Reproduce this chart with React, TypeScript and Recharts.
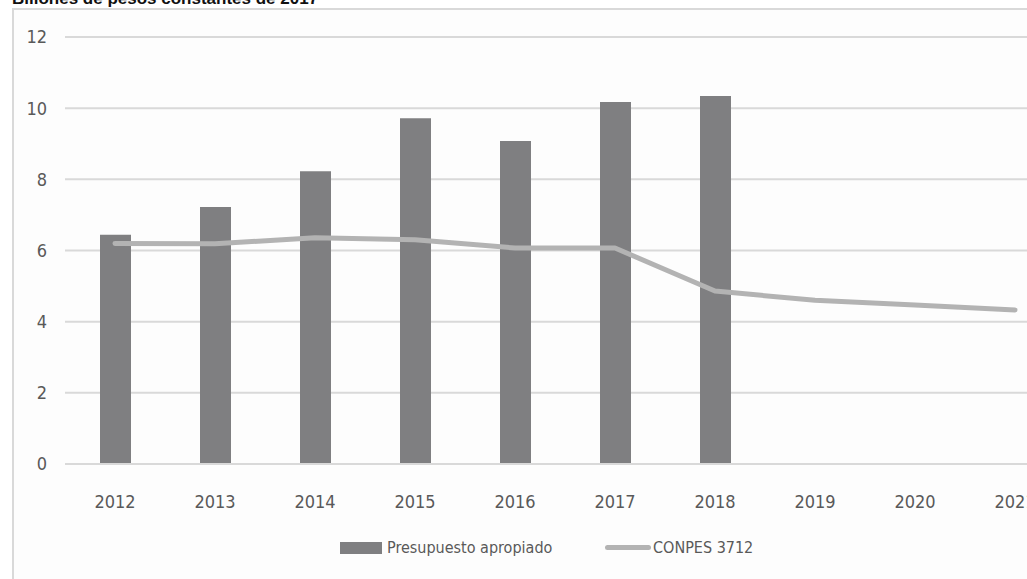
import { ComposedChart, Bar, Line, XAxis, YAxis, CartesianGrid } from 'recharts';

const years = ['2012', '2013', '2014', '2015', '2016', '2017', '2018', '2019', '2020', '2021'];
const presupuesto = [6.44, 7.22, 8.23, 9.72, 9.08, 10.17, 10.34, null, null, null];
const conpes = [6.2, 6.19, 6.36, 6.3, 6.07, 6.07, 4.86, 4.6, 4.47, 4.33];
const yTicks = [0, 2, 4, 6, 8, 10, 12];

const chartData = years.map((year, i) => ({
  year,
  presupuesto: presupuesto[i],
  conpes: conpes[i],
}));

const FONT = '"DejaVu Sans Condensed", "DejaVu Sans", sans-serif';
const TEXT = '#595959';

export default function App() {
  return (
    <div
      style={{
        position: 'absolute',
        left: 0,
        top: 0,
        width: 1027,
        height: 579,
        overflow: 'hidden',
        background: '#ffffff',
        fontFamily: FONT,
      }}
    >
      <div
        style={{
          position: 'absolute',
          left: 12,
          top: -10,
          fontFamily: '"Liberation Sans", Arial, sans-serif',
          fontWeight: 'bold',
          fontSize: 17,
          lineHeight: '17px',
          color: '#111',
          whiteSpace: 'nowrap',
        }}
      >
        Billones de pesos constantes de 2017
      </div>
      <div
        style={{
          position: 'absolute',
          left: 12,
          top: 8,
          width: 1100,
          height: 700,
          border: '2px solid #d9d9d9',
          background: '#fdfdfd',
        }}
      />
      <div style={{ position: 'absolute', left: 0, top: 0 }}>
        <ComposedChart
          width={1100}
          height={579}
          data={chartData}
          margin={{ top: 37, right: 35, bottom: 75, left: 15 }}
          barSize={31}
        >
          <CartesianGrid vertical={false} stroke="#d9d9d9" strokeWidth={2} />
          <XAxis
            dataKey="year"
            axisLine={{ stroke: '#d9d9d9', strokeWidth: 2 }}
            tickLine={false}
            tickSize={0}
            tickMargin={31}
            height={40}
            interval={0}
            tick={{ fill: TEXT, fontSize: 18, fontFamily: FONT }}
          />
          <YAxis
            domain={[0, 12]}
            ticks={yTicks}
            width={50}
            axisLine={false}
            tickLine={false}
            tickSize={0}
            tickMargin={18}
            tick={{ fill: TEXT, fontSize: 18, fontFamily: FONT }}
          />
          <Bar dataKey="presupuesto" fill="#7f7f81" isAnimationActive={false} />
          <Line
            dataKey="conpes"
            type="linear"
            stroke="#b3b3b3"
            strokeWidth={5}
            strokeLinecap="round"
            strokeLinejoin="round"
            dot={false}
            activeDot={false}
            isAnimationActive={false}
          />
        </ComposedChart>
      </div>
      <div
        style={{
          position: 'absolute',
          top: 538,
          left: 340,
          display: 'flex',
          alignItems: 'center',
          fontSize: 16,
          color: TEXT,
          whiteSpace: 'nowrap',
        }}
      >
        <span style={{ display: 'inline-block', width: 42, height: 12, background: '#7f7f81', marginRight: 5 }} />
        <span style={{ width: 218 }}>Presupuesto apropiado</span>
        <span
          style={{
            display: 'inline-block',
            width: 46,
            height: 5,
            borderRadius: 3,
            background: '#b3b3b3',
            marginRight: 2,
          }}
        />
        <span>CONPES 3712</span>
      </div>
    </div>
  );
}
